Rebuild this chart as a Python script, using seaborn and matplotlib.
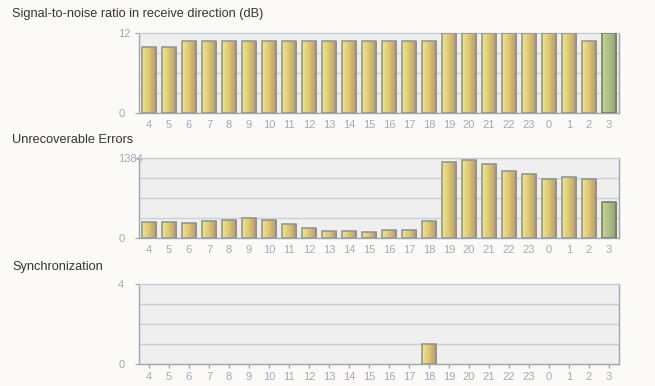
import numpy as np
import pandas as pd
import matplotlib
matplotlib.use("Agg")
import matplotlib.pyplot as plt
import seaborn as sns
from matplotlib.colors import LinearSegmentedColormap

hours = ["4", "5", "6", "7", "8", "9", "10", "11", "12", "13", "14", "15",
         "16", "17", "18", "19", "20", "21", "22", "23", "0", "1", "2", "3"]
snr_db = [9.8, 9.8, 10.8, 10.8, 10.8, 10.8, 10.8, 10.8, 10.8, 10.8, 10.8, 10.8,
          10.8, 10.8, 10.8, 11.9, 11.9, 11.9, 11.9, 11.9, 11.9, 11.9, 10.8, 11.9]
unrecoverable = [277, 277, 260, 294, 311, 346, 311, 242, 173, 121, 121, 115,
                 138, 138, 294, 1315, 1350, 1280, 1159, 1107, 1021, 1055, 1021, 623]
sync = [0, 0, 0, 0, 0, 0, 0, 0, 0, 0, 0, 0,
        0, 0, 1, 0, 0, 0, 0, 0, 0, 0, 0, 0]
titles = ["Signal-to-noise ratio in receive direction (dB)",
          "Unrecoverable Errors", "Synchronization"]
y_max = [12, 1384, 4]

BG = "#fbfaf6"
PLOT_BG = "#efeff0"
GRID = "#c9d0d9"
SPINE = "#9ea6b0"
TICK_TXT = "#a2a9b9"

gold = LinearSegmentedColormap.from_list("gold", ["#efe88a", "#d9c472", "#b8955f"])
green = LinearSegmentedColormap.from_list("green", ["#c6d69a", "#aabb84", "#92a070"])

plt.rcParams['font.family'] = ['Liberation Sans', 'DejaVu Sans']

fig = plt.figure(figsize=(6.55, 3.86), dpi=100, facecolor=BG)

W, H = 655, 386
left_px, right_px = 139, 619
bottoms_px = [112.7, 238.3, 364.3]
title_y_px = [14, 140, 267]
series = [snr_db, unrecoverable, sync]

for i in range(3):
    b = bottoms_px[i]
    ax = fig.add_axes([left_px / W, (H - b) / H, (right_px - left_px) / W, 80 / H])
    ax.set_facecolor(PLOT_BG)
    df = pd.DataFrame({"hour": hours, "value": series[i]})
    sns.barplot(data=df, x="hour", y="value", ax=ax, order=hours, width=0.72,
                color="#d8c070", edgecolor="#8b9199", linewidth=1.1, zorder=3)
    ymax = y_max[i]
    ax.set_ylim(0, ymax)
    ax.set_xlim(-0.5, len(hours) - 0.5)
    xl, yl = ax.get_xlim(), ax.get_ylim()
    # gradient fill
    grad = np.linspace(0, 1, 64).reshape(1, -1)
    for j, p in enumerate(ax.patches):
        h = p.get_height()
        if h <= 0:
            p.set_visible(False)
            continue
        x0 = p.get_x()
        w = p.get_width()
        cmap = green if j == len(hours) - 1 else gold
        im = ax.imshow(grad, cmap=cmap, aspect="auto", extent=[x0, x0 + w, 0, h],
                       zorder=2.5, interpolation="bilinear")
        im.set_clip_path(p)
        p.set_facecolor("none")
        if j == len(hours) - 1:
            p.set_edgecolor("#6c7a60")
    ax.set_xlim(xl)
    ax.set_ylim(yl)
    for k in (1, 2, 3):
        ax.axhline(ymax * k / 4, color=GRID, lw=1.0, zorder=1)
    ax.set_yticks([0, ymax])
    ax.set_yticklabels(["0", str(ymax)])
    for t in ax.get_yticklabels():
        t.set_ha("left")
    ax.tick_params(axis="y", length=3, width=0.8, color=SPINE, pad=12,
                   labelsize=8, labelcolor=TICK_TXT)
    ax.tick_params(axis="x", direction="out", length=(3.2 if i == 2 else 0),
                   width=1.0, color=SPINE,
                   pad=(2.5 if i == 2 else 5), labelsize=8, labelcolor=TICK_TXT)
    ax.set_xlabel("")
    ax.set_ylabel("")
    for s in ("left", "bottom", "right"):
        ax.spines[s].set_color(SPINE)
        ax.spines[s].set_linewidth(1.0)
    ax.spines["top"].set_color("#c6ccd6")
    ax.spines["top"].set_linewidth(1.0)
    fig.text(12 / W, (H - title_y_px[i]) / H, titles[i], ha="left", va="center",
             fontsize=9.2, color="#333338")

fig.savefig("out.png", dpi=100, facecolor=BG)
